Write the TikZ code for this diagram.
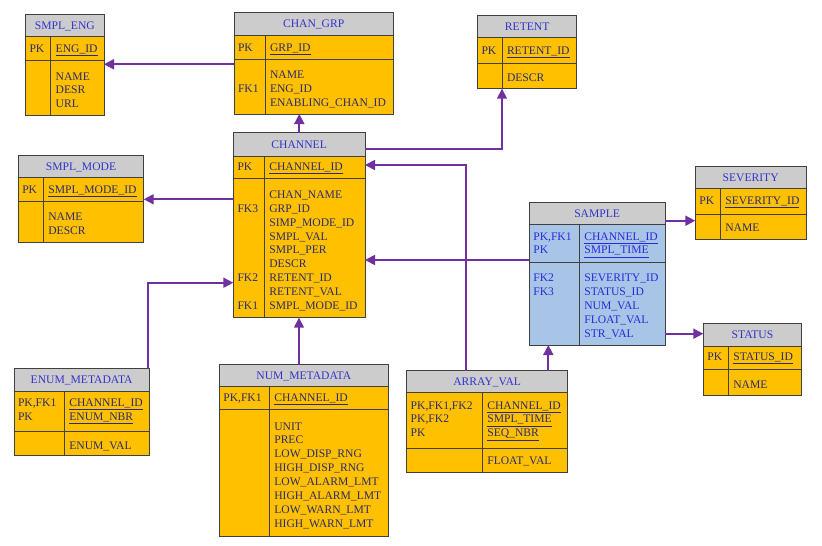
\documentclass[tikz,border=0pt]{standalone}
\usepackage{fontspec}
\setmainfont{Liberation Serif}
\usetikzlibrary{arrows.meta}
\definecolor{hdrgray}{HTML}{CCCCCC}
\definecolor{orng}{HTML}{FFC000}
\definecolor{lblue}{HTML}{A8C4E6}
\definecolor{navy}{HTML}{2B2B6E}
\definecolor{ttlblue}{HTML}{3333CC}
\definecolor{smpblue}{HTML}{2A2ADC}
\definecolor{edgec}{HTML}{404040}
\definecolor{purp}{HTML}{7030A0}
\tikzset{
  every node/.style={inner sep=0pt, outer sep=0pt},
  tfont/.style={font=\fontsize{11.6}{13.9}\selectfont},
  hdr/.style={draw=edgec, line width=0.9pt, fill=hdrgray, text=ttlblue, tfont, text height=8pt, text depth=0pt},
  rowbox/.style={draw=edgec, line width=0.9pt, fill=orng},
  divline/.style={draw=edgec, line width=0.9pt},
  txt/.style={tfont, text=navy, anchor=west, text height=8pt, text depth=0pt},
  conn/.style={draw=purp, line width=1.7pt, -{Triangle[length=10pt,width=10pt]}},
}
% name, x0, x1, xdiv, ytop, yhead, ypk, ybot, title
\newcommand\erdtab[9]{%
  \node[rowbox, anchor=north west, minimum width={(#3-#2)*1pt}, minimum height={(#8-#7)*1pt}] (#1-at) at (#2,#7) {};
  \node[rowbox, anchor=north west, minimum width={(#3-#2)*1pt}, minimum height={(#7-#6)*1pt}] (#1-pk) at (#2,#6) {};
  \node[hdr, anchor=north west, minimum width={(#3-#2)*1pt}, minimum height={(#6-#5)*1pt}] (#1) at (#2,#5) {#9};
  \draw[divline] (#4,#6) -- (#4,#8);
}
\newcommand\erdlines[4]{%
  \foreach \t [count=\i] in {#4}{\node[txt] (#1-\i) at ({#2},{#3+(\i-1)*13.9}) {\t};}
}
\begin{document}
\begin{tikzpicture}[x=1pt,y=-1pt]
\path[use as bounding box, fill=white] (0,0) rectangle (822,546);

% SMPL_ENG
\erdtab{smpleng}{25.7}{104}{50.7}{14.3}{36.5}{60.3}{115.5}{SMPL\_ENG}
\erdlines{smpleng-k}{29.5}{48.3}{PK}
\erdlines{smpleng-p}{55.7}{48.3}{\underline{ENG\_ID}}
\erdlines{smpleng-a}{55.7}{76}{NAME,DESR,URL}

% CHAN_GRP
\erdtab{chgrp}{234}{393.3}{265}{12.7}{35}{59}{114}{CHAN\_GRP}
\erdlines{chgrp-k}{238}{47.7}{PK}
\erdlines{chgrp-f}{238}{88.3}{FK1}
\erdlines{chgrp-p}{270}{47.7}{\underline{GRP\_ID}}
\erdlines{chgrp-a}{270}{74.2}{NAME,ENG\_ID,ENABLING\_CHAN\_ID}

% RETENT
\erdtab{retent}{477.7}{576.7}{502}{15.3}{37.7}{63.3}{88.7}{RETENT}
\erdlines{retent-k}{481.5}{50}{PK}
\erdlines{retent-p}{507}{50}{\underline{RETENT\_ID}}
\erdlines{retent-a}{507}{77.3}{DESCR}

% CHANNEL
\erdtab{channel}{233.3}{365}{264.3}{132.5}{156}{178.3}{317.7}{CHANNEL}
\erdlines{channel-k}{237.5}{166.7}{PK}
\erdlines{channel-p}{269.3}{166.7}{\underline{CHANNEL\_ID}}
\erdlines{channel-a}{269.3}{194.3}{CHAN\_NAME,GRP\_ID,SIMP\_MODE\_ID,SMPL\_VAL,SMPL\_PER,DESCR,RETENT\_ID,RETENT\_VAL,SMPL\_MODE\_ID}
\erdlines{channel-f3}{237.5}{208.2}{FK3}
\erdlines{channel-f2}{237.5}{277.7}{FK2}
\erdlines{channel-f1}{237.5}{305.5}{FK1}

% SMPL_MODE
\erdtab{smplmode}{18.3}{143.7}{43.3}{155.3}{177.7}{201.7}{242.3}{SMPL\_MODE}
\erdlines{smplmode-k}{22.3}{189}{PK}
\erdlines{smplmode-p}{48.3}{189}{\underline{SMPL\_MODE\_ID}}
\erdlines{smplmode-a}{48.3}{216.7}{NAME,DESCR}

% SEVERITY
\erdtab{severity}{695.3}{806}{720.3}{166}{188.3}{214}{239}{SEVERITY}
\erdlines{severity-k}{699.3}{200}{PK}
\erdlines{severity-p}{725.3}{200}{\underline{SEVERITY\_ID}}
\erdlines{severity-a}{725.3}{227.3}{NAME}

% SAMPLE
\begin{scope}[rowbox/.append style={fill=lblue}, txt/.append style={text=smpblue}]
\erdtab{sample}{529.3}{665}{579.3}{202}{224}{262.7}{345}{SAMPLE}
\erdlines{sample-k}{533.3}{236}{{PK,FK1},PK}
\erdlines{sample-p}{584.3}{236}{\underline{CHANNEL\_ID},\underline{SMPL\_TIME}}
\erdlines{sample-f}{533.3}{277.7}{FK2,FK3}
\erdlines{sample-a}{584.3}{277.7}{SEVERITY\_ID,STATUS\_ID,NUM\_VAL,FLOAT\_VAL,STR\_VAL}
\end{scope}

% STATUS
\erdtab{status}{703.3}{801.7}{728.3}{323.7}{346}{369.3}{395}{STATUS}
\erdlines{status-k}{707.3}{356.7}{PK}
\erdlines{status-p}{733.3}{356.7}{\underline{STATUS\_ID}}
\erdlines{status-a}{733.3}{384}{NAME}

% ARRAY_VAL
\erdtab{arrayval}{406.7}{567.7}{482.3}{370.7}{392.7}{448.7}{472}{ARRAY\_VAL}
\erdlines{arrayval-k}{410.7}{405}{{PK,FK1,FK2},{PK,FK2},PK}
\erdlines{arrayval-p}{487.3}{405}{\underline{CHANNEL\_ID},\underline{SMPL\_TIME},\underline{SEQ\_NBR}}
\erdlines{arrayval-a}{487.3}{460}{FLOAT\_VAL}

% ENUM_METADATA
\erdtab{enummeta}{14}{149.3}{64.3}{368.7}{391}{431}{455.7}{ENUM\_METADATA}
\erdlines{enummeta-k}{18}{402.7}{{PK,FK1},PK}
\erdlines{enummeta-p}{69.3}{402.7}{\underline{CHANNEL\_ID},\underline{ENUM\_NBR}}
\erdlines{enummeta-a}{69.3}{445.3}{ENUM\_VAL}

% NUM_METADATA
\erdtab{nummeta}{219.3}{388.3}{269.3}{364.7}{386.7}{409.3}{536}{NUM\_METADATA}
\erdlines{nummeta-k}{223.3}{397.7}{{PK,FK1}}
\erdlines{nummeta-p}{274.3}{397.7}{\underline{CHANNEL\_ID}}
\erdlines{nummeta-a}{274.3}{426}{UNIT,PREC,LOW\_DISP\_RNG,HIGH\_DISP\_RNG,LOW\_ALARM\_LMT,HIGH\_ALARM\_LMT,LOW\_WARN\_LMT,HIGH\_WARN\_LMT}

% connectors
\draw[conn] (chgrp-at.west |- 0,64.3) -- (smpleng-at.east |- 0,64.3);
\draw[conn] (channel.north -| 299.3,0) -- (chgrp-at.south -| 299.3,0);
\draw[conn] (channel.east |- 0,149) -| (retent-at.south -| 502,0);
\draw[conn] (channel-at.west |- 0,199.3) -- (smplmode-pk.east |- 0,199.3);
\draw[conn] (enummeta.north -| 148.3,0) |- (channel-at.west |- 0,282.7);
\draw[conn] (nummeta.north -| 299,0) -- (channel-at.south -| 299,0);
\draw[conn] (arrayval.north -| 466,0) |- (channel-pk.east |- 0,165);
\draw[conn] (sample-pk.west |- 0,260) -- (channel-at.east |- 0,260);
\draw[conn] (sample.east |- 0,220.7) -- (severity-at.west |- 0,220.7);
\draw[conn] (sample-at.east |- 0,333.7) -- (status.west |- 0,333.7);
\draw[conn] (arrayval.north -| 548.3,0) -- (sample-at.south -| 548.3,0);
\end{tikzpicture}
\end{document}
